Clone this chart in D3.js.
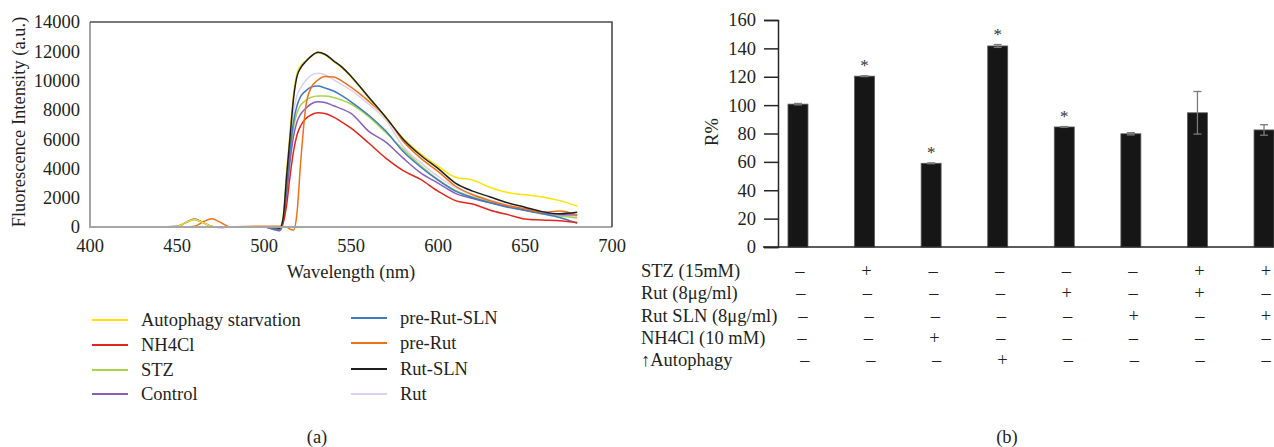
<!DOCTYPE html>
<html>
<head>
<meta charset="utf-8">
<script src="https://cdn.jsdelivr.net/npm/d3@7"></script>
<style>
  body { margin: 0; background: #fff; }
  svg { display: block; font-family: "Liberation Serif", "DejaVu Serif", serif; }
</style>
</head>
<body>
<svg id="fig" width="1274" height="447"></svg>
<script>
// ---- (a) fluorescence spectra ----
const WAVELENGTHS = [400, 440, 450, 455, 460, 465, 470, 475, 480, 500, 505, 509, 511, 513, 515, 517, 519, 521, 524, 527, 531, 535, 540, 545, 550, 560, 570, 580, 590, 600, 610, 620, 630, 640, 650, 660, 670, 680];

const AUTOPHAGY = [0, 0, 30, 300, 520, 300, 40, 0, 0, 0, -30, -80, 700, 3800, 6500, 9100, 10500, 11000, 11350, 11650, 11900, 11750, 11300, 10850, 10250, 8850, 7450, 6050, 5000, 4150, 3400, 3200, 2700, 2350, 2200, 2050, 1800, 1430];
const NH4CL = [0, 0, 0, 0, 0, 0, 0, 0, 0, 0, -20, -60, 300, 1500, 3500, 5200, 6300, 6900, 7400, 7650, 7800, 7750, 7500, 7150, 6750, 5750, 4700, 3850, 3250, 2450, 1800, 1570, 1150, 850, 550, 480, 420, 300];
const STZ = [0, 0, 0, 0, 0, 0, 0, 0, 0, 0, -30, -90, 500, 2500, 5000, 6800, 7800, 8300, 8650, 8850, 8950, 8950, 8850, 8650, 8400, 7550, 6450, 5300, 4200, 3250, 2500, 2050, 1750, 1450, 1150, 900, 750, 620];
const CONTROL = [0, 0, 30, 300, 540, 300, 40, -30, 0, 0, -150, -250, 300, 2200, 4500, 6200, 7200, 7700, 8100, 8400, 8560, 8500, 8280, 8050, 7760, 6550, 5800, 4700, 3700, 3000, 2300, 1950, 1650, 1400, 1150, 950, 850, 820];
const PRE_RUT_SLN = [0, 0, 30, 300, 520, 300, 40, -20, 0, 0, -100, -200, 400, 2800, 5300, 7200, 8300, 8900, 9300, 9550, 9630, 9500, 9290, 8950, 8550, 7650, 6550, 5150, 4100, 3200, 2450, 2000, 1650, 1350, 1150, 900, 650, 250];
const PRE_RUT = [0, 0, 0, 0, 50, 350, 560, 320, 20, 50, 50, 50, 40, 0, -150, -200, 1000, 4300, 8200, 9500, 10040, 10280, 10250, 9950, 9550, 8600, 7500, 5850, 4700, 3800, 2800, 2200, 1800, 1450, 1250, 1000, 1100, 800];
const RUT_SLN = [0, 0, 0, 0, 0, 0, 0, 0, 0, 0, -30, -80, 600, 3500, 6200, 8800, 10300, 10850, 11300, 11650, 11930, 11800, 11350, 10900, 10300, 8900, 7500, 6000, 4900, 4000, 3000, 2450, 2050, 1650, 1350, 1050, 900, 1000];
const RUT = [0, 0, 30, 300, 540, 300, 40, -30, 0, 0, -150, -250, 400, 3000, 5800, 7900, 9000, 9500, 10000, 10350, 10500, 10400, 10050, 9700, 9350, 8400, 7300, 5500, 4400, 3450, 2700, 2200, 1850, 1500, 1200, 900, 800, 700];

const SERIES_NAMES = ["Autophagy starvation", "NH4Cl", "STZ", "Control", "pre-Rut-SLN", "pre-Rut", "Rut-SLN", "Rut"];
const SERIES_VALUES = [AUTOPHAGY, NH4CL, STZ, CONTROL, PRE_RUT_SLN, PRE_RUT, RUT_SLN, RUT];
const SERIES_COLORS = ["#FFE200", "#E3261B", "#A8D548", "#8A5EBE", "#3C7BC6", "#F0701A", "#1E1E1E", "#DCD0F0"];
// drawing order: light ones first so the dark lines sit on top
const DRAW_ORDER = [7, 2, 3, 4, 1, 5, 0, 6];

const X_TICKS = [400, 450, 500, 550, 600, 650, 700];
const Y_TICKS = [0, 2000, 4000, 6000, 8000, 10000, 12000, 14000];

// ---- (b) R% bars ----
const GROUPS = ["g1", "g2", "g3", "g4", "g5", "g6", "g7", "g8"];
const R_VALUES = [100.7, 120.4, 59, 141.7, 84.6, 79.8, 94.6, 82.5];
const R_ERRORS = [0.5, 0.3, 0.3, 1, 0.3, 0.8, 15, 3.7];
const R_STARS = [false, true, true, true, true, false, false, false];
const BAR_TICKS = [0, 20, 40, 60, 80, 100, 120, 140, 160];

const ROW_LABELS = ["STZ (15mM)", "Rut (8\u03bcg/ml)", "Rut SLN (8\u03bcg/ml)", "NH4Cl (10 mM)", "\u2191Autophagy"];
const STZ_ROW = ["-", "+", "-", "-", "-", "-", "+", "+"];
const RUT_ROW = ["-", "-", "-", "-", "+", "-", "+", "-"];
const RUTSLN_ROW = ["-", "-", "-", "-", "-", "+", "-", "+"];
const NH4CL_ROW = ["-", "-", "+", "-", "-", "-", "-", "-"];
const AUTO_ROW = ["-", "-", "-", "+", "-", "-", "-", "-"];
const TABLE_ROWS = [STZ_ROW, RUT_ROW, RUTSLN_ROW, NH4CL_ROW, AUTO_ROW];

const svg = d3.select("#fig");
const FONT = 18.5;

// ================= panel (a) =================
const x = d3.scaleLinear().domain([400, 700]).range([90, 612]);
const y = d3.scaleLinear().domain([0, 14000]).range([227, 22]);

const a = svg.append("g");

a.selectAll(".ytick")
  .data(Y_TICKS)
  .enter()
  .append("text")
  .attr("x", 80)
  .attr("y", (d) => y(d))
  .attr("dy", "0.35em")
  .attr("text-anchor", "end")
  .attr("font-size", FONT)
  .attr("fill", "#231f20")
  .text((d) => d);

a.selectAll(".xtick")
  .data(X_TICKS)
  .enter()
  .append("text")
  .attr("x", (d) => x(d))
  .attr("y", 252)
  .attr("text-anchor", "middle")
  .attr("font-size", FONT)
  .attr("fill", "#231f20")
  .text((d) => d);

const line = d3
  .line()
  .x((d) => x(d[0]))
  .y((d) => y(d[1]))
  .curve(d3.curveMonotoneX);

DRAW_ORDER.forEach((i) => {
  a.append("path")
    .datum(WAVELENGTHS.map((w, k) => [w, SERIES_VALUES[i][k]]))
    .attr("d", line)
    .attr("fill", "none")
    .attr("stroke", SERIES_COLORS[i])
    .attr("stroke-width", 1.5);
});

// frame: light left/bottom, darker top/right
a.append("path")
  .attr("d", `M${x(400)},${y(14000)}V${y(0)}H${x(700)}`)
  .attr("fill", "none")
  .attr("stroke", "#a6a6a6")
  .attr("stroke-width", 2);
a.append("path")
  .attr("d", `M${x(400)},${y(14000)}H${x(700)}V${y(0)}`)
  .attr("fill", "none")
  .attr("stroke", "#4d4d4d")
  .attr("stroke-width", 1.6);

a.append("text")
  .attr("transform", "translate(25,122) rotate(-90)")
  .attr("text-anchor", "middle")
  .attr("font-size", FONT)
  .attr("fill", "#231f20")
  .text("Fluorescence Intensity (a.u.)");

a.append("text")
  .attr("x", 351)
  .attr("y", 278)
  .attr("text-anchor", "middle")
  .attr("font-size", FONT)
  .attr("fill", "#231f20")
  .text("Wavelength (nm)");

// legend, two columns of four
const legendX = [92, 351];
const legendY = [[320, 345, 370, 394], [318, 343, 369, 394]];
SERIES_NAMES.forEach((name, i) => {
  const col = Math.floor(i / 4);
  const row = i % 4;
  const lx = legendX[col];
  const ly = legendY[col][row];
  a.append("line")
    .attr("x1", lx)
    .attr("x2", lx + 36)
    .attr("y1", ly)
    .attr("y2", ly)
    .attr("stroke", SERIES_COLORS[i])
    .attr("stroke-width", 2);
  a.append("text")
    .attr("x", lx + 49)
    .attr("y", ly)
    .attr("dy", "0.35em")
    .attr("font-size", FONT)
    .attr("fill", "#231f20")
    .text(name);
});

a.append("text")
  .attr("x", 317)
  .attr("y", 443)
  .attr("text-anchor", "middle")
  .attr("font-size", FONT)
  .attr("fill", "#231f20")
  .text("(a)");

// ================= panel (b) =================
const xb = d3.scaleBand().domain(GROUPS).range([778, 1284]).paddingInner(0.7).paddingOuter(0.15);
const yb = d3.scaleLinear().domain([0, 160]).range([247, 20]);

const b = svg.append("g");

const yAxis = b
  .append("g")
  .attr("transform", "translate(778,0)")
  .call(d3.axisLeft(yb).tickValues(BAR_TICKS).tickSize(14).tickPadding(8));
yAxis.select(".domain").attr("stroke", "#262626").attr("stroke-width", 1.5);
yAxis.selectAll(".tick line").attr("stroke", "#262626").attr("stroke-width", 1.5);
yAxis
  .selectAll(".tick text")
  .attr("font-family", "Liberation Serif, serif")
  .attr("font-size", FONT)
  .attr("fill", "#231f20");

const bars = GROUPS.map((g, i) => ({ g, v: R_VALUES[i], e: R_ERRORS[i], star: R_STARS[i] }));

b.selectAll(".bar")
  .data(bars)
  .enter()
  .append("rect")
  .attr("x", (d) => xb(d.g))
  .attr("y", (d) => yb(d.v))
  .attr("width", xb.bandwidth())
  .attr("height", (d) => yb(0) - yb(d.v))
  .attr("fill", "#161616")
  .attr("stroke", "#5a5a5a")
  .attr("stroke-width", 0.8);

// error bars
const err = b.selectAll(".err").data(bars).enter().append("g").attr("stroke", "#7a7a7a").attr("stroke-width", 1.3);
err
  .append("line")
  .attr("x1", (d) => xb(d.g) + xb.bandwidth() / 2)
  .attr("x2", (d) => xb(d.g) + xb.bandwidth() / 2)
  .attr("y1", (d) => yb(d.v + d.e))
  .attr("y2", (d) => yb(d.v - d.e));
[1, -1].forEach((s) => {
  err
    .append("line")
    .attr("x1", (d) => xb(d.g) + xb.bandwidth() / 2 - 4)
    .attr("x2", (d) => xb(d.g) + xb.bandwidth() / 2 + 4)
    .attr("y1", (d) => yb(d.v + s * d.e))
    .attr("y2", (d) => yb(d.v + s * d.e));
});

b.selectAll(".star")
  .data(bars.filter((d) => d.star))
  .enter()
  .append("text")
  .attr("x", (d) => xb(d.g) + xb.bandwidth() / 2)
  .attr("y", (d) => yb(d.v + d.e) - 5)
  .attr("text-anchor", "middle")
  .attr("font-size", 17)
  .attr("fill", "#333")
  .text("*");

// baseline across the whole panel
b.append("line")
  .attr("x1", 763)
  .attr("x2", 1274)
  .attr("y1", yb(0))
  .attr("y2", yb(0))
  .attr("stroke", "#262626")
  .attr("stroke-width", 1.6);

b.append("text")
  .attr("transform", "translate(718,132) rotate(-90)")
  .attr("text-anchor", "middle")
  .attr("font-size", FONT)
  .attr("fill", "#231f20")
  .text("R%");

// treatment table
const rowY = [271, 293, 316, 338, 360];
const rowShift = [0, 1, 3, 2, 5];
ROW_LABELS.forEach((label, r) => {
  b.append("text")
    .attr("x", 641)
    .attr("y", rowY[r])
    .attr("dy", "0.35em")
    .attr("font-size", FONT)
    .attr("fill", "#231f20")
    .text(label);
  b.selectAll(".sign" + r)
    .data(TABLE_ROWS[r])
    .enter()
    .append("text")
    .attr("x", (d, i) => xb(GROUPS[i]) + xb.bandwidth() / 2 + rowShift[r] * (1 - i / 7) + 2)
    .attr("y", rowY[r])
    .attr("dy", "0.35em")
    .attr("text-anchor", "middle")
    .attr("font-size", FONT)
    .attr("fill", "#231f20")
    .text((d) => (d === "+" ? "+" : "\u2013"));
});

b.append("text")
  .attr("x", 1007)
  .attr("y", 443)
  .attr("text-anchor", "middle")
  .attr("font-size", FONT)
  .attr("fill", "#231f20")
  .text("(b)");
</script>
</body>
</html>
